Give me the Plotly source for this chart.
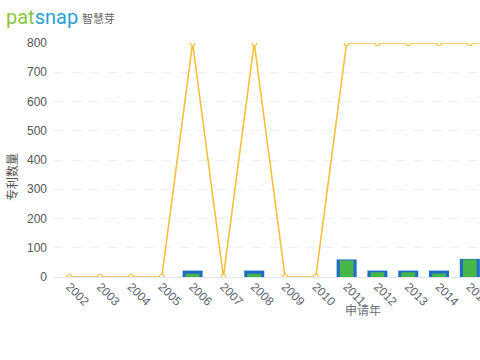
import plotly.graph_objects as go

years = [str(y) for y in range(2002, 2017)]
bar_years = [str(y) for y in range(2002, 2016)]
total_counts = [0, 0, 0, 0, 22, 0, 22, 0, 0, 60, 22, 22, 22, 62]
sub_counts = [0, 0, 0, 0, 11, 0, 11, 0, 0, 57, 16, 16, 12, 60]
growth = [0, 0, 0, 0, 800, 0, 800, 0, 0, 800, 800, 800, 800, 800, 800]

W, H = 480, 360
L, R, T, B = 54, 0, 43, 83
pw, ph = W - L - R, H - T - B

def px(x):
    return (x - L) / pw

def py(y):
    return (H - B - y) / ph

font = "Liberation Sans, Noto Sans CJK SC, sans-serif"

fig = go.Figure()
fig.add_trace(go.Bar(x=bar_years, y=total_counts, width=0.65,
                     marker=dict(color="#1F6CC8", line=dict(width=0)), name="总量"))
fig.add_trace(go.Bar(x=bar_years, y=sub_counts, width=0.45,
                     marker=dict(color="#46B649", line=dict(width=0)), name="子量"))
fig.add_trace(go.Scatter(x=years, y=growth, mode="lines+markers",
                         line=dict(color="#F6BF3A", width=1.6),
                         marker=dict(size=5, color="white", line=dict(color="#F6BF3A", width=1.1)),
                         name="增长率"))

def ann(text, x, y, size, color, family=font, angle=0, xanchor="center"):
    return dict(text=text, x=px(x), y=py(y), xref="paper", yref="paper",
                xanchor=xanchor, yanchor="middle", textangle=angle,
                showarrow=False, font=dict(size=size, color=color, family=family))

fig.update_layout(
    width=W, height=H,
    margin=dict(l=L, r=R, t=T, b=B),
    barmode="overlay",
    showlegend=False,
    plot_bgcolor="white", paper_bgcolor="white",
    font=dict(family=font, size=12, color="#555"),
    xaxis=dict(type="category", categoryorder="array", categoryarray=years,
               range=[-0.5, 13.33], tickangle=45, showgrid=False, automargin=False,
               showline=True, linecolor="#E0E6F1", linewidth=1,
               ticks="", tickfont=dict(size=12, color="#5F6470"), ticklabelstandoff=-3),
    yaxis=dict(range=[0, 800], dtick=100, showgrid=True, gridcolor="#EBEEF3",
               griddash="dash", gridwidth=1, zeroline=False, ticks="", automargin=False,
               tickfont=dict(size=12, color="#555"), ticklabelstandoff=6),
    annotations=[
        ann("专利数量", 12, 177, 12, "#555", angle=-90),
        ann("申请年", 363, 311, 12, "#6E7079"),
        ann("<span style='color:#8CC63F'>pat</span><span style='color:#2A9FD6'>snap</span>",
            4, 17, 20, "#2A9FD6", family="Roboto, sans-serif", xanchor="left"),
        ann("智慧芽", 80, 18, 11, "#666", family="Noto Sans CJK SC", xanchor="left"),
    ],
)
fig.write_html("out.html", config={"displayModeBar": False},
               post_script="document.body.style.margin='0';document.body.style.overflow='hidden';")
